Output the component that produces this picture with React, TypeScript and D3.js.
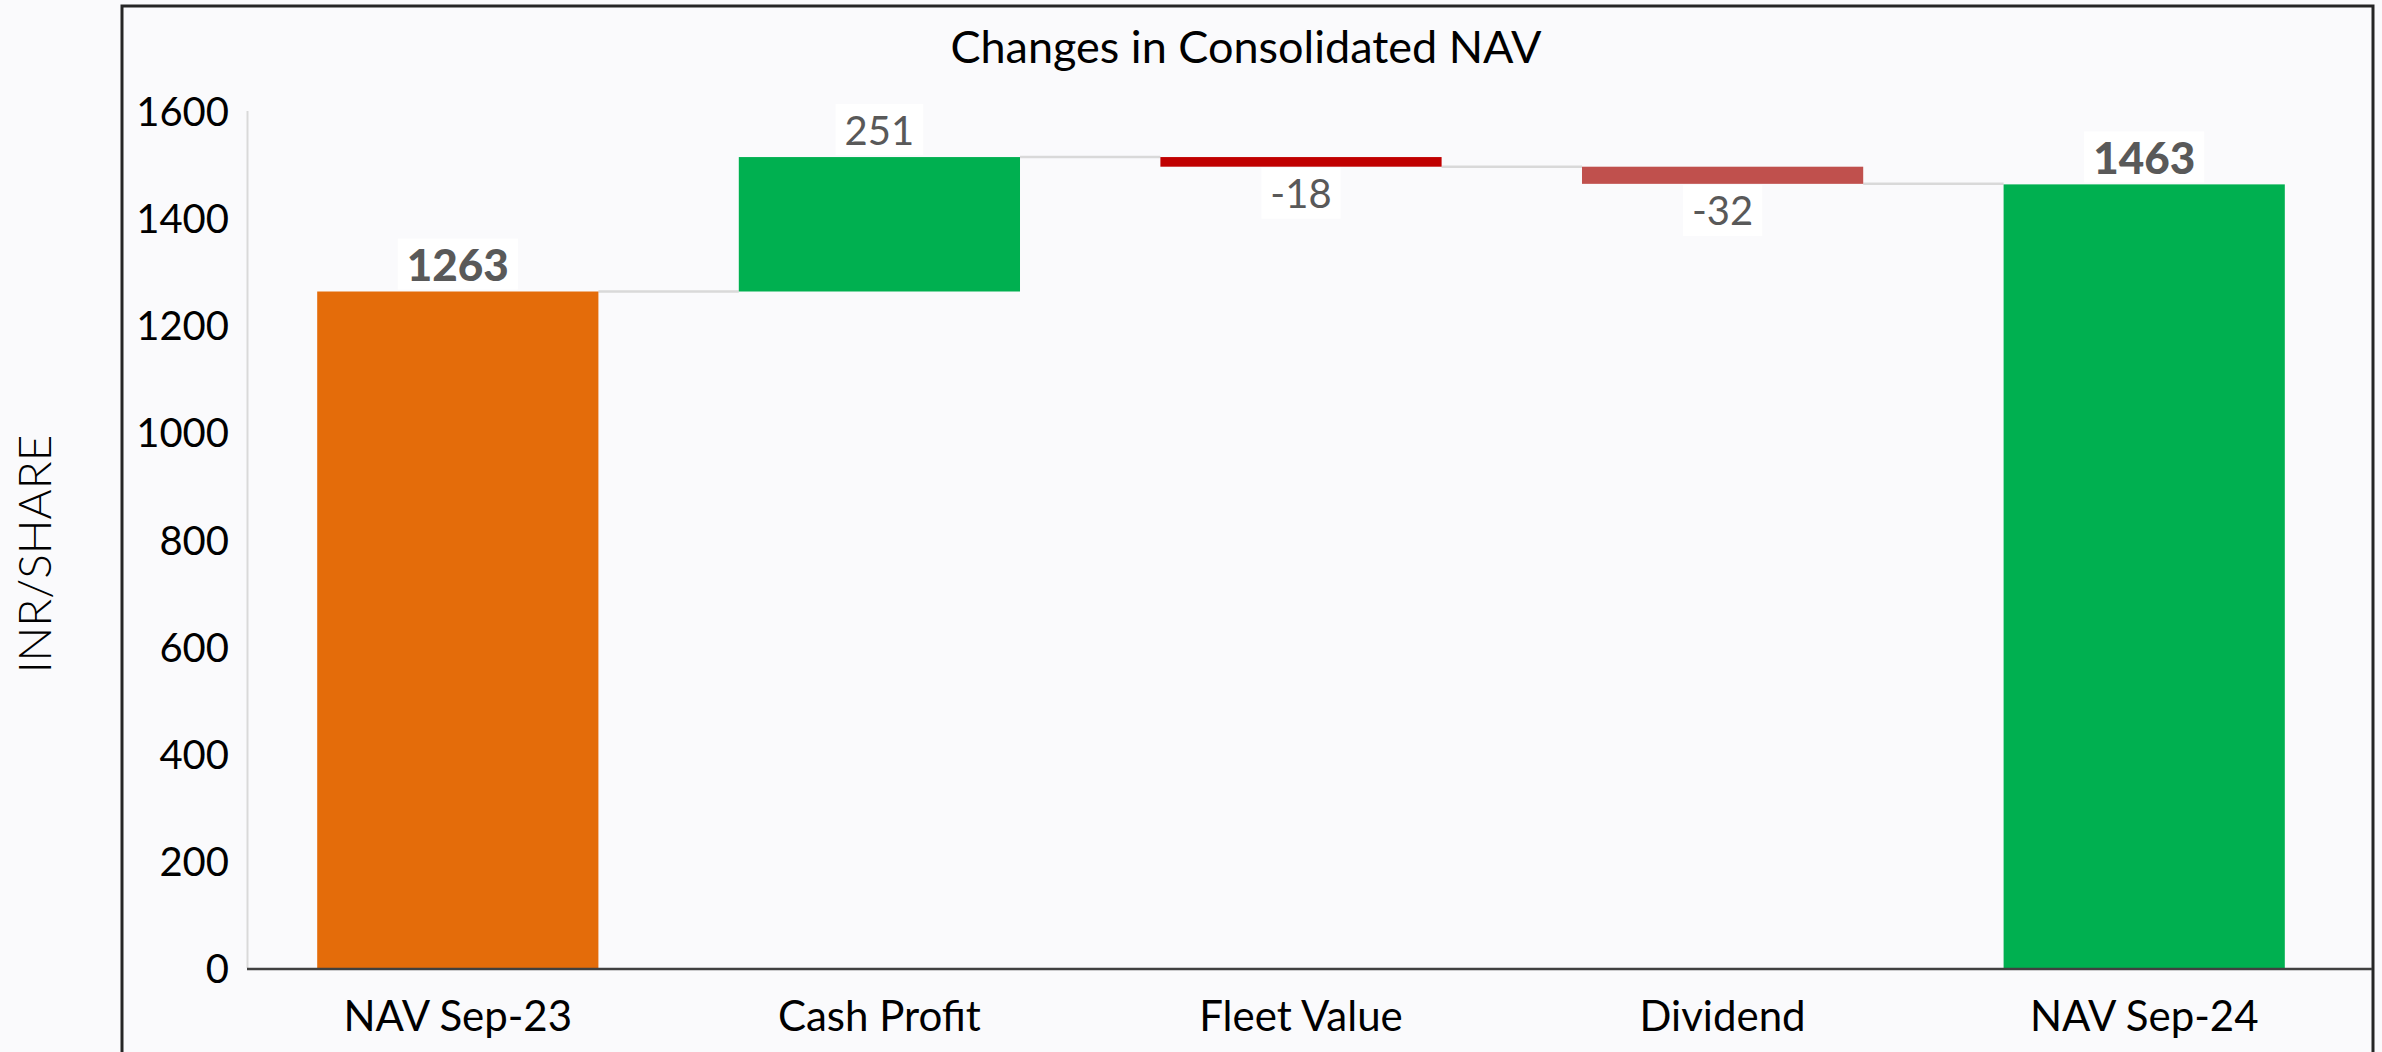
import React, { useEffect, useRef } from 'react';
import * as d3 from 'd3';

const categories = ['NAV Sep-23', 'Cash Profit', 'Fleet Value', 'Dividend', 'NAV Sep-24'];
const values = [1263, 251, -18, -32, 1463];
const totals = [true, false, false, false, true];
const barColors = ['#E46C0A', '#00B050', '#C00000', '#C0504D', '#00B050'];
const yTicks = [0, 200, 400, 600, 800, 1000, 1200, 1400, 1600];

const width = 2382;
const height = 1052;
const FONT = 'Lato, "Open Sans", sans-serif';

function App() {
  const svgRef = useRef<SVGSVGElement>(null);

  useEffect(() => {
    const svg = d3.select(svgRef.current);
    svg.selectAll('*').remove();

    // background + outer frame
    svg.append('rect').attr('width', width).attr('height', height).attr('fill', '#FAFAFC');
    svg.append('rect')
      .attr('x', 122).attr('y', 6)
      .attr('width', 2251).attr('height', 1100)
      .attr('fill', 'none').attr('stroke', '#262626').attr('stroke-width', 3);

    const x = d3.scaleBand().domain(categories).range([247, 2355]).paddingInner(0.333).paddingOuter(0.1665);
    const y = d3.scaleLinear().domain([0, 1600]).range([968, 111]);

    // running totals -> bar start/end
    let run = 0;
    const bars = values.map((v, i) => {
      let start, end;
      if (totals[i]) { start = 0; end = v; run = v; }
      else { start = run; end = run + v; run = end; }
      return { cat: categories[i], v, start, end, total: totals[i], color: barColors[i] };
    });

    // title
    svg.append('text')
      .attr('x', 1246).attr('y', 46)
      .attr('text-anchor', 'middle').attr('dominant-baseline', 'central')
      .style('font-family', FONT).style('font-size', '45px').attr('fill', '#000')
      .text('Changes in Consolidated NAV');

    // y axis line (light)
    svg.append('line')
      .attr('x1', 247.5).attr('x2', 247.5).attr('y1', y(1600)).attr('y2', y(0))
      .attr('stroke', '#D9D9D9').attr('stroke-width', 2);

    // y tick labels
    svg.append('g').selectAll('text').data(yTicks).join('text')
      .attr('x', 229).attr('y', d => y(d))
      .attr('text-anchor', 'end').attr('dominant-baseline', 'central')
      .style('font-family', FONT).style('font-size', '40px').attr('fill', '#000')
      .text(d => d);

    // y title
    svg.append('text')
      .attr('transform', 'translate(33,554) rotate(-90)')
      .attr('text-anchor', 'middle').attr('dominant-baseline', 'central')
      .style('font-family', FONT).style('font-size', '46px').style('font-weight', 300).attr('fill', '#000')
      .text('INR/SHARE');

    // connectors
    svg.append('g').selectAll('line').data(bars.slice(0, -1)).join('line')
      .attr('x1', d => x(d.cat)! + x.bandwidth())
      .attr('x2', (d, i) => x(categories[i + 1])!)
      .attr('y1', d => y(d.end)).attr('y2', d => y(d.end))
      .attr('stroke', '#D9D9D9').attr('stroke-width', 2.5);

    // bars
    svg.append('g').selectAll('rect').data(bars).join('rect')
      .attr('x', d => x(d.cat)!)
      .attr('width', x.bandwidth())
      .attr('y', d => y(Math.max(d.start, d.end)))
      .attr('height', d => Math.abs(y(d.start) - y(d.end)))
      .attr('fill', d => d.color);

    // x axis line
    svg.append('line')
      .attr('x1', 247).attr('x2', 2372).attr('y1', y(0) + 1).attr('y2', y(0) + 1)
      .attr('stroke', '#404040').attr('stroke-width', 2.5);

    // category labels
    svg.append('g').selectAll('text').data(categories).join('text')
      .attr('x', d => x(d)! + x.bandwidth() / 2).attr('y', 1015)
      .attr('text-anchor', 'middle').attr('dominant-baseline', 'central')
      .style('font-family', FONT).style('font-size', '42px').attr('fill', '#000')
      .text(d => d);

    // data labels with white boxes
    const boxH = 51;
    const lab = svg.append('g').selectAll('g').data(bars).join('g');
    lab.each(function (d) {
      const g = d3.select(this);
      const cx = x(d.cat)! + x.bandwidth() / 2;
      const top = d.v >= 0;
      const by = top ? y(Math.max(d.start, d.end)) - 2 - boxH : y(Math.min(d.start, d.end)) + 1;
      const rect = g.append('rect').attr('fill', '#FFFFFF');
      const t = g.append('text')
        .attr('x', cx).attr('y', by + boxH / 2)
        .attr('text-anchor', 'middle').attr('dominant-baseline', 'central')
        .style('font-family', FONT).style('font-size', d.total ? '44px' : '40px')
        .style('font-weight', d.total ? 900 : 'normal')
        .attr('fill', '#595959')
        .text(d.v);
      const w = (t.node() as SVGTextElement).getComputedTextLength() + 18;
      rect.attr('x', cx - w / 2).attr('y', by).attr('width', w).attr('height', boxH);
    });
  }, []);

  return (
    <svg ref={svgRef} width={width} height={height}
      style={{ position: 'absolute', left: 0, top: 0, display: 'block' }} />
  );
}

export default App;
